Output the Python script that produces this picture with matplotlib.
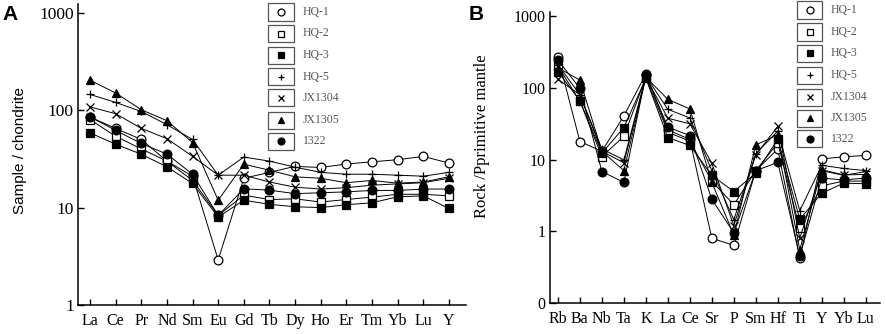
import matplotlib
matplotlib.use("Agg")
import matplotlib.pyplot as plt
from matplotlib.lines import Line2D
from matplotlib.patches import Rectangle
from matplotlib.ticker import FixedLocator, NullLocator

# ---------------- data ----------------
ree = ["La", "Ce", "Pr", "Nd", "Sm", "Eu", "Gd", "Tb", "Dy", "Ho", "Er", "Tm", "Yb", "Lu", "Y"]
trace = ["Rb", "Ba", "Nb", "Ta", "K", "La", "Ce", "Sr", "P", "Sm", "Hf", "Ti", "Y", "Yb", "Lu"]
samples = ["HQ-1", "HQ-2", "HQ-3", "HQ-5", "JX1304", "JX1305", "1322"]

ree_hq1 = [85, 65, 50, 30, 21, 2.9, 20, 23, 26.5, 25.8, 28, 29.5, 31, 33.5, 28.7]
ree_hq2 = [80, 54, 40, 30, 19, 8.3, 13.4, 12.1, 12.3, 11.4, 12.1, 12.8, 13.7, 13.7, 13.2]
ree_hq3 = [58.5, 44.7, 35.3, 26.2, 17.7, 8.0, 11.9, 10.8, 10.2, 10.0, 10.7, 11.2, 12.9, 13.2, 9.8]
ree_hq5 = [145, 120, 97, 71, 50, 21.5, 33, 30, 26, 23, 22, 22, 21.5, 21, 23]
ree_jx1304 = [108, 92, 65, 51, 33.6, 21.5, 21.5, 18.3, 16.2, 15.5, 16, 17, 17.5, 18, 20]
ree_jx1305 = [203, 150, 101, 78, 46.5, 11.9, 27.9, 24.2, 20.7, 20, 18, 19, 17.8, 18.3, 20.7]
ree_1322 = [85.4, 62, 45.5, 35.4, 22, 8.3, 15.6, 15.1, 13.9, 14.2, 14.5, 15, 15, 15.5, 15.5]

tr_hq1 = [272, 17.8, 13, 40.5, 155, 26, 19, 0.80, 0.635, 7, 14, 0.42, 10.2, 10.9, 11.4]
tr_hq2 = [200, 65, 11, 21, 140, 24, 18, 5, 2.34, 7, 17, 1.1, 4.3, 5, 5]
tr_hq3 = [168, 66, 12.3, 27.9, 135, 20.2, 15.7, 6.0, 3.58, 6.45, 19.2, 1.47, 3.39, 4.67, 4.6]
tr_hq5 = [210, 80, 14, 9.9, 145, 50, 38, 7, 1.45, 12, 25, 1.93, 8.3, 7.5, 7]
tr_jx1304 = [131, 80, 13, 9, 140, 37.6, 31.4, 8.9, 1.2, 11.6, 29, 0.8, 7, 6, 6.8]
tr_jx1305 = [190, 128, 13, 7.0, 140, 69, 50.7, 4.8, 0.89, 16, 22, 0.55, 7.2, 6.1, 6.2]
tr_1322 = [244, 98, 6.8, 4.8, 150, 28.2, 21.6, 2.8, 0.95, 7, 9.1, 0.45, 5.5, 5.2, 5.5]

ree_data = [ree_hq1, ree_hq2, ree_hq3, ree_hq5, ree_jx1304, ree_jx1305, ree_1322]
tr_data = [tr_hq1, tr_hq2, tr_hq3, tr_hq5, tr_jx1304, tr_jx1305, tr_1322]

a_yticks = [1, 10, 100, 1000]
a_ylabels = ["1", "10", "100", "1000"]
b_yticks = [0.1, 1, 10, 100, 1000]
b_ylabels = ["0", "1", "10", "100", "1000"]

# ---------------- styles ----------------
styles = [
    dict(marker="o", mfc="white", mec="black"),
    dict(marker="s", mfc="white", mec="black"),
    dict(marker="s", mfc="black", mec="black"),
    dict(marker="+", mfc="black", mec="black"),
    dict(marker="x", mfc="black", mec="black"),
    dict(marker="^", mfc="black", mec="black"),
    dict(marker="o", mfc="black", mec="black"),
]

serif = ["Liberation Serif", "DejaVu Serif"]
sans = ["Liberation Sans", "DejaVu Sans"]

W, H = 886, 334
fig = plt.figure(figsize=(W / 100, H / 100), dpi=100)


def px(x, y):
    return x / W, 1 - y / H


def setup(ax, cats, xlim, ylim, yt, yl, ytfs):
    ax.set_yscale("log")
    ax.set_xlim(*xlim)
    ax.set_ylim(*ylim)
    ax.set_xticks(range(len(cats)))
    ax.set_xticklabels(cats, family=serif, fontsize=11.5)
    ax.yaxis.set_major_locator(FixedLocator(yt))
    ax.yaxis.set_minor_locator(NullLocator())
    ax.set_yticklabels(yl, family=serif, fontsize=ytfs)
    for s in ["top", "right"]:
        ax.spines[s].set_visible(False)
    for s in ["left", "bottom"]:
        ax.spines[s].set_linewidth(1.1)
    ax.tick_params(axis="both", direction="in", length=4, width=1.0)
    ax.tick_params(axis="x", pad=6)
    ax.tick_params(axis="y", pad=3)


def draw(ax, data):
    for vals, st in zip(data, styles):
        ax.plot(range(len(vals)), vals, color="black", lw=0.7,
                markersize=6.3, markeredgewidth=0.9, **st, zorder=3)


# Panel A
axA = fig.add_axes([78 / W, 29 / H, 388 / W, 301 / H])
setup(axA, ree, (-0.47, 14.67), (1, 1230), a_yticks, a_ylabels, 12.5)
draw(axA, ree_data)
axA.set_ylabel("Sample / chondrite", family=sans, fontsize=11)
axA.yaxis.set_label_coords(-0.131, 0.513)

# Panel B
axB = fig.add_axes([550 / W, 31 / H, 330 / W, 291 / H])
setup(axB, trace, (-0.36, 14.65), (0.1, 1137), b_yticks, b_ylabels, 11.5)
draw(axB, tr_data)
axB.set_ylabel("Rock /Pprimitive mantle", family=serif, fontsize=12)
axB.yaxis.set_label_coords(-0.182, 0.572)

# panel letters
fig.text(*px(2, 15), "A", family=sans, fontweight="bold", fontsize=15, va="center", ha="left")
fig.text(*px(469, 15), "B", family=sans, fontweight="bold", fontsize=15, va="center", ha="left")


def legend(x0, x1, ys, xt):
    for name, st, yc in zip(samples, styles, ys):
        bx, by = px(x0, yc + 8.5)
        bw = (x1 - x0) / W
        bh = 17 / H
        fig.patches.append(Rectangle((bx, by), bw, bh, transform=fig.transFigure,
                                     fill=False, ec="#555555", lw=0.9))
        cx, cy = px((x0 + x1) / 2, yc)
        fig.lines.append(Line2D([cx], [cy], transform=fig.transFigure, linestyle="none",
                                markersize=5, markeredgewidth=0.9, **st))
        tx, ty = px(xt, yc)
        fig.text(tx, ty, name, family=serif, fontsize=8.5, color="#555555", va="center", ha="left")


legend(268, 294, [12, 33.5, 55, 77, 98, 120, 141], 303)
legend(797, 822, [10, 32, 53, 75, 97, 118, 139], 831)

fig.savefig("out.png", dpi=100)
